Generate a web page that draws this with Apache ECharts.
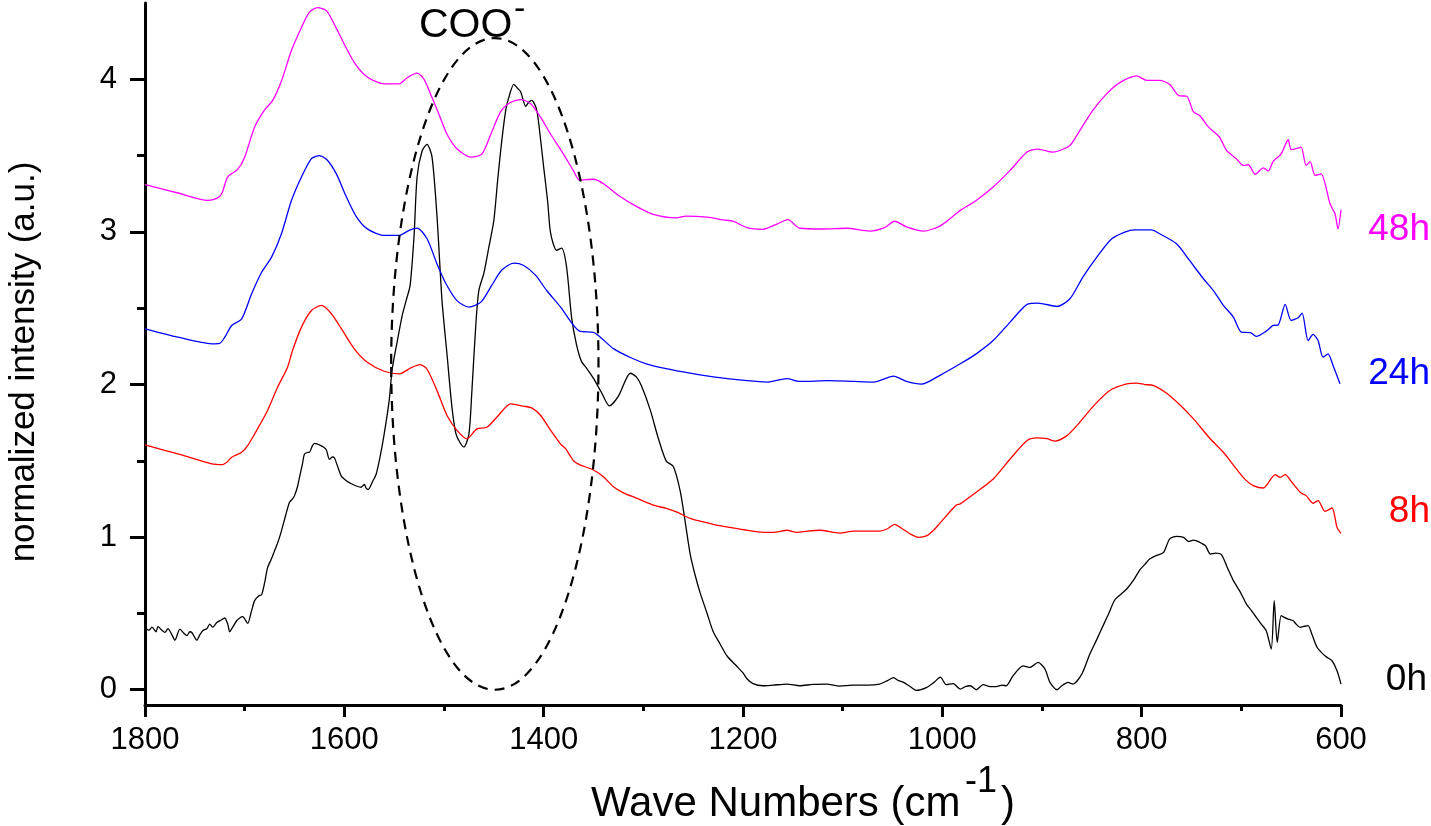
<!DOCTYPE html>
<html>
<head>
<meta charset="utf-8">
<title>FTIR spectra</title>
<script src="https://cdn.jsdelivr.net/npm/echarts@6/dist/echarts.min.js"></script>
<style>
  html, body { margin: 0; padding: 0; background: #fff; }
  #chart { width: 1431px; height: 826px; }
</style>
</head>
<body>
<div id="chart"></div>
<script>
// [wave number (cm-1), normalized intensity]
var spectrum0h = [
    [1800,0.41],[1796,0.39],[1793,0.41],[1789,0.38],[1787,0.413],[1783,0.39],[1780,0.376],[1777,0.40],
    [1773,0.36],[1770,0.325],[1765,0.397],[1761,0.37],[1758,0.354],[1755,0.38],[1753,0.375],[1748,0.325],
    [1745,0.36],[1742,0.387],[1738,0.40],[1735,0.43],[1732,0.41],[1728,0.44],[1724,0.455],[1720,0.47],
    [1717,0.43],[1715,0.38],[1712,0.41],[1708,0.452],[1705,0.47],[1702,0.479],[1697,0.435],[1693,0.52],
    [1690,0.584],[1686,0.615],[1683,0.623],[1680,0.70],[1677,0.80],[1673,0.86],[1670,0.911],[1667,0.96],
    [1663,1.043],[1659,1.14],[1655,1.228],[1652,1.25],[1650,1.272],[1647,1.33],[1645,1.392],[1642,1.48],
    [1640,1.545],[1637,1.555],[1635,1.556],[1632,1.60],[1630,1.615],[1627,1.61],[1625,1.605],[1621,1.59],
    [1618,1.571],[1615,1.51],[1612,1.525],[1610,1.52],[1606,1.45],[1603,1.40],[1598,1.37],[1593,1.35],
    [1588,1.335],[1583,1.327],[1580,1.345],[1578,1.32],[1576,1.313],[1572,1.36],[1568,1.414],[1564,1.53],
    [1560,1.676],[1555,1.895],[1552,2.1],[1547,2.28],[1542,2.45],[1538,2.55],[1534,2.65],[1530,2.98],
    [1527,3.36],[1522,3.53],[1517,3.574],[1512,3.49],[1507,3.10],[1502,2.55],[1497,2.2],[1492,1.85],
    [1488,1.676],[1484,1.62],[1480,1.59],[1475,1.676],[1472,1.96],[1468,2.40],[1465,2.617],[1460,2.73],
    [1455,2.9],[1450,3.075],[1446,3.35],[1442,3.6],[1438,3.8],[1435,3.88],[1430,3.967],[1426,3.94],
    [1423,3.917],[1418,3.823],[1415,3.85],[1412,3.862],[1407,3.80],[1403,3.6],[1400,3.425],[1396,3.2],
    [1393,2.99],[1387,2.88],[1382,2.894],[1377,2.77],[1372,2.44],[1367,2.26],[1362,2.15],[1357,2.108],
    [1350,2.04],[1342,1.948],[1334,1.86],[1325,1.924],[1313,2.074],[1307,2.05],[1302,1.993],[1293,1.832],
    [1285,1.648],[1277,1.498],[1270,1.464],[1263,1.302],[1258,1.1],[1253,0.889],[1248,0.75],[1243,0.635],
    [1236,0.5],[1230,0.382],[1223,0.3],[1216,0.221],[1206,0.152],[1200,0.11],[1196,0.072],[1190,0.04],
    [1180,0.026],[1170,0.03],[1156,0.037],[1143,0.026],[1130,0.035],[1116,0.037],[1103,0.024],[1090,0.03],
    [1075,0.03],[1063,0.037],[1055,0.06],[1049,0.079],[1044,0.06],[1039,0.048],[1032,0.02],[1026,-0.004],
    [1016,0.014],[1008,0.05],[1002,0.083],[996,0.033],[989,0.04],[982,0.004],[977,0.02],[972,0.026],
    [966,0.0],[959,0.033],[952,0.02],[946,0.02],[940,0.03],[936,0.026],[929,0.092],[919,0.157],
    [912,0.146],[904,0.179],[897,0.135],[892,0.048],[885,0.0],[880,0.026],[874,0.048],[869,0.037],
    [860,0.103],[852,0.234],[845,0.33],[838,0.43],[833,0.5],[827,0.588],[820,0.63],[815,0.66],
    [808,0.72],[802,0.784],[797,0.82],[792,0.856],[785,0.88],[778,0.9],[772,0.987],[765,1.005],
    [758,0.998],[753,0.972],[748,0.98],[745,0.975],[740,0.96],[736,0.944],[731,0.889],[726,0.895],
    [720,0.885],[714,0.8],[708,0.715],[701,0.64],[695,0.562],[690,0.52],[685,0.474],[680,0.43],
    [675,0.387],[670,0.267],[667,0.583],[664,0.31],[660,0.485],[657,0.475],[653,0.463],[648,0.452],
    [645,0.43],[641,0.409],[637,0.415],[633,0.42],[629,0.36],[624,0.278],[619,0.24],[614,0.212],
    [609,0.19],[604,0.125],[600,0.037]
];

var spectrum8h = [
    [1800,1.604],[1767,1.545],[1733,1.48],[1722,1.475],[1718,1.49],[1713,1.523],[1703,1.556],[1697,1.6],
    [1690,1.676],[1677,1.83],[1667,1.982],[1657,2.113],[1652,2.223],[1643,2.376],[1633,2.485],[1623,2.518],
    [1613,2.464],[1603,2.366],[1590,2.234],[1577,2.146],[1560,2.087],[1545,2.07],[1533,2.11],[1524,2.13],
    [1517,2.10],[1507,1.96],[1497,1.797],[1487,1.70],[1477,1.644],[1467,1.709],[1457,1.72],[1447,1.786],
    [1433,1.873],[1420,1.858],[1412,1.847],[1403,1.797],[1393,1.70],[1383,1.61],[1378,1.58],[1370,1.50],
    [1364,1.475],[1350,1.44],[1340,1.395],[1330,1.33],[1320,1.29],[1307,1.256],[1290,1.21],[1277,1.188],
    [1265,1.16],[1253,1.123],[1240,1.1],[1230,1.084],[1210,1.06],[1196,1.045],[1185,1.035],[1173,1.031],
    [1165,1.035],[1156,1.045],[1146,1.031],[1135,1.04],[1123,1.045],[1103,1.026],[1089,1.04],[1075,1.04],
    [1063,1.04],[1055,1.055],[1048,1.084],[1039,1.05],[1032,1.02],[1024,0.999],[1016,1.008],[1008,1.05],
    [1002,1.095],[986,1.21],[982,1.218],[966,1.294],[949,1.381],[932,1.512],[915,1.633],[905,1.65],
    [895,1.645],[887,1.629],[875,1.665],[865,1.731],[848,1.862],[832,1.961],[815,2.004],[805,2.009],
    [797,2.0],[788,1.993],[775,1.943],[762,1.869],[748,1.775],[731,1.643],[718,1.556],[705,1.447],
    [696,1.377],[688,1.338],[678,1.322],[666,1.409],[661,1.392],[656,1.409],[650,1.366],[641,1.294],
    [635,1.272],[628,1.222],[623,1.239],[616,1.169],[609,1.191],[604,1.064],[600,1.025]
];

var spectrum24h = [
    [1800,2.365],[1767,2.31],[1733,2.267],[1725,2.27],[1720,2.31],[1713,2.387],[1703,2.43],[1693,2.595],
    [1683,2.736],[1673,2.835],[1663,2.99],[1653,3.207],[1643,3.36],[1633,3.48],[1625,3.50],[1617,3.47],
    [1608,3.38],[1598,3.23],[1588,3.10],[1577,3.02],[1560,2.977],[1545,2.977],[1535,3.01],[1527,3.025],
    [1517,2.955],[1507,2.79],[1498,2.66],[1487,2.55],[1475,2.507],[1463,2.54],[1453,2.64],[1442,2.75],
    [1430,2.795],[1420,2.78],[1408,2.715],[1397,2.616],[1383,2.507],[1370,2.387],[1364,2.35],[1350,2.342],
    [1344,2.315],[1330,2.235],[1313,2.177],[1297,2.136],[1277,2.104],[1253,2.074],[1230,2.05],[1196,2.025],
    [1176,2.016],[1156,2.039],[1143,2.02],[1113,2.025],[1089,2.02],[1069,2.016],[1049,2.055],[1036,2.02],
    [1021,2.002],[1002,2.062],[982,2.136],[966,2.201],[949,2.288],[932,2.409],[915,2.525],[904,2.534],
    [885,2.512],[872,2.562],[859,2.704],[845,2.835],[830,2.955],[817,2.999],[807,3.014],[790,3.014],
    [782,2.988],[765,2.922],[752,2.813],[738,2.693],[728,2.616],[718,2.518],[708,2.442],[700,2.343],
    [691,2.34],[685,2.315],[675,2.35],[668,2.387],[663,2.39],[656,2.525],[650,2.42],[643,2.438],
    [639,2.468],[633,2.288],[628,2.328],[623,2.288],[618,2.179],[613,2.201],[608,2.125],[601,2.005]
];

var spectrum48h = [
    [1800,3.31],[1767,3.255],[1737,3.207],[1728,3.22],[1723,3.25],[1717,3.36],[1707,3.41],[1700,3.49],
    [1690,3.687],[1680,3.80],[1672,3.86],[1663,3.99],[1653,4.19],[1643,4.34],[1635,4.44],[1627,4.47],
    [1618,4.45],[1610,4.36],[1600,4.23],[1590,4.11],[1577,4.015],[1560,3.97],[1545,3.97],[1537,4.01],
    [1527,4.04],[1520,4.00],[1512,3.88],[1505,3.77],[1497,3.64],[1487,3.545],[1473,3.49],[1462,3.51],
    [1453,3.64],[1443,3.79],[1433,3.85],[1423,3.867],[1413,3.84],[1403,3.75],[1393,3.64],[1382,3.53],
    [1370,3.40],[1364,3.34],[1350,3.345],[1340,3.316],[1324,3.235],[1307,3.167],[1290,3.115],[1267,3.092],
    [1257,3.104],[1236,3.097],[1220,3.079],[1210,3.07],[1196,3.028],[1180,3.017],[1166,3.051],[1155,3.081],
    [1143,3.024],[1120,3.019],[1096,3.024],[1073,3.005],[1058,3.028],[1048,3.07],[1036,3.033],[1019,3.005],
    [1002,3.04],[986,3.12],[982,3.141],[966,3.206],[949,3.294],[932,3.403],[915,3.523],[904,3.543],
    [889,3.523],[872,3.567],[862,3.666],[849,3.797],[835,3.906],[822,3.978],[805,4.022],[795,3.993],
    [782,3.993],[772,3.967],[762,3.891],[755,3.89],[748,3.786],[742,3.764],[733,3.688],[722,3.622],
    [715,3.535],[705,3.48],[698,3.436],[693,3.44],[686,3.377],[678,3.42],[673,3.40],[668,3.462],
    [660,3.512],[653,3.604],[650,3.539],[645,3.545],[640,3.556],[635,3.436],[631,3.46],[626,3.37],
    [620,3.38],[611,3.184],[606,3.119],[603,3.02],[600,3.145]
];

// dashed ellipse around the COO- bands: [centre wave number, centre intensity, half width, half height]
var cooEllipse = [[1449, 2.135, 104, 2.135]];

var seriesNames = ['0h', '8h', '24h', '48h'];
var seriesColors = ['#000000', '#ff0000', '#0000ff', '#ff00ff'];
var yTickValues = [0, 1, 2, 3, 4];
var yMinorTickValues = [0.5, 1.5, 2.5, 3.5];

var FONT = '"Liberation Sans", Arial, Helvetica, sans-serif';

var chart = echarts.init(document.getElementById('chart'));

function txt(x, y, text, size, color, align, rot) {
    return {
        type: 'text',
        x: x,
        y: y,
        rotation: rot || 0,
        silent: true,
        style: {
            text: text,
            font: size + 'px ' + FONT,
            fill: color,
            align: align,
            textAlign: align,
            verticalAlign: 'middle',
            textVerticalAlign: 'middle'
        }
    };
}

var lineSeries = [spectrum0h, spectrum8h, spectrum24h, spectrum48h].map(function (d, i) {
    return {
        name: seriesNames[i],
        type: 'line',
        data: d,
        showSymbol: false,
        symbol: 'none',
        smooth: 0.25,
        lineStyle: { color: seriesColors[i], width: 1.3 },
        z: 3
    };
});

lineSeries.push({
    type: 'custom',
    data: cooEllipse,
    silent: true,
    z: 4,
    renderItem: function (params, api) {
        var c = api.coord([api.value(0), api.value(1)]);
        var s = api.size([api.value(2), api.value(3)]);
        return {
            type: 'ellipse',
            shape: { cx: c[0], cy: c[1], rx: s[0], ry: s[1] },
            style: { fill: 'none', stroke: '#000', lineWidth: 2.2, lineDash: [10, 7] }
        };
    }
});

var option = {
    backgroundColor: '#fff',
    animation: false,
    textStyle: { fontFamily: FONT },
    grid: { left: 145, right: 90, top: 3, bottom: 121, containLabel: false },
    xAxis: {
        type: 'value',
        inverse: true,
        min: 600,
        max: 1800,
        interval: 200,
        axisLine: { onZero: false, lineStyle: { color: '#000', width: 3 } },
        axisTick: { length: 12, lineStyle: { color: '#000', width: 3 } },
        minorTick: { show: true, splitNumber: 2, length: 6, lineStyle: { color: '#000', width: 3 } },
        axisLabel: {
            color: '#000', fontSize: 31, fontFamily: FONT, margin: 20,
            formatter: function (v) { return String(v); }
        },
        splitLine: { show: false },
        minorSplitLine: { show: false }
    },
    yAxis: [{
        type: 'value',
        min: -0.1,
        max: 4.5,
        axisLine: { onZero: false, lineStyle: { color: '#000', width: 3 } },
        axisTick: { customValues: yTickValues, length: 15, lineStyle: { color: '#000', width: 3 } },
        axisLabel: { customValues: yTickValues, color: '#000', fontSize: 31, fontFamily: FONT, margin: 28 },
        splitLine: { show: false }
    }, {
        type: 'value',
        position: 'left',
        min: -0.1,
        max: 4.5,
        axisLine: { show: false },
        axisTick: { customValues: yMinorTickValues, length: 8, lineStyle: { color: '#000', width: 3 } },
        axisLabel: { show: false },
        splitLine: { show: false }
    }],
    series: lineSeries,
    graphic: [
        txt(24, 362, 'normalized intensity (a.u.)', 35, '#000', 'center', Math.PI / 2),
        txt(591, 804, 'Wave Numbers (cm', 42, '#000', 'left'),
        txt(965, 782, '-1', 36, '#000', 'left'),
        txt(1001, 804, ')', 42, '#000', 'left'),
        txt(419, 26, 'COO', 41, '#000', 'left'),
        txt(514, 10, '-', 34, '#000', 'left'),
        txt(1430, 230, '48h', 37, '#ff00ff', 'right'),
        txt(1430, 374, '24h', 37, '#0000ff', 'right'),
        txt(1430, 512, '8h', 37, '#ff0000', 'right'),
        txt(1427, 680, '0h', 37, '#000000', 'right')
    ]
};

chart.setOption(option);
</script>
</body>
</html>
